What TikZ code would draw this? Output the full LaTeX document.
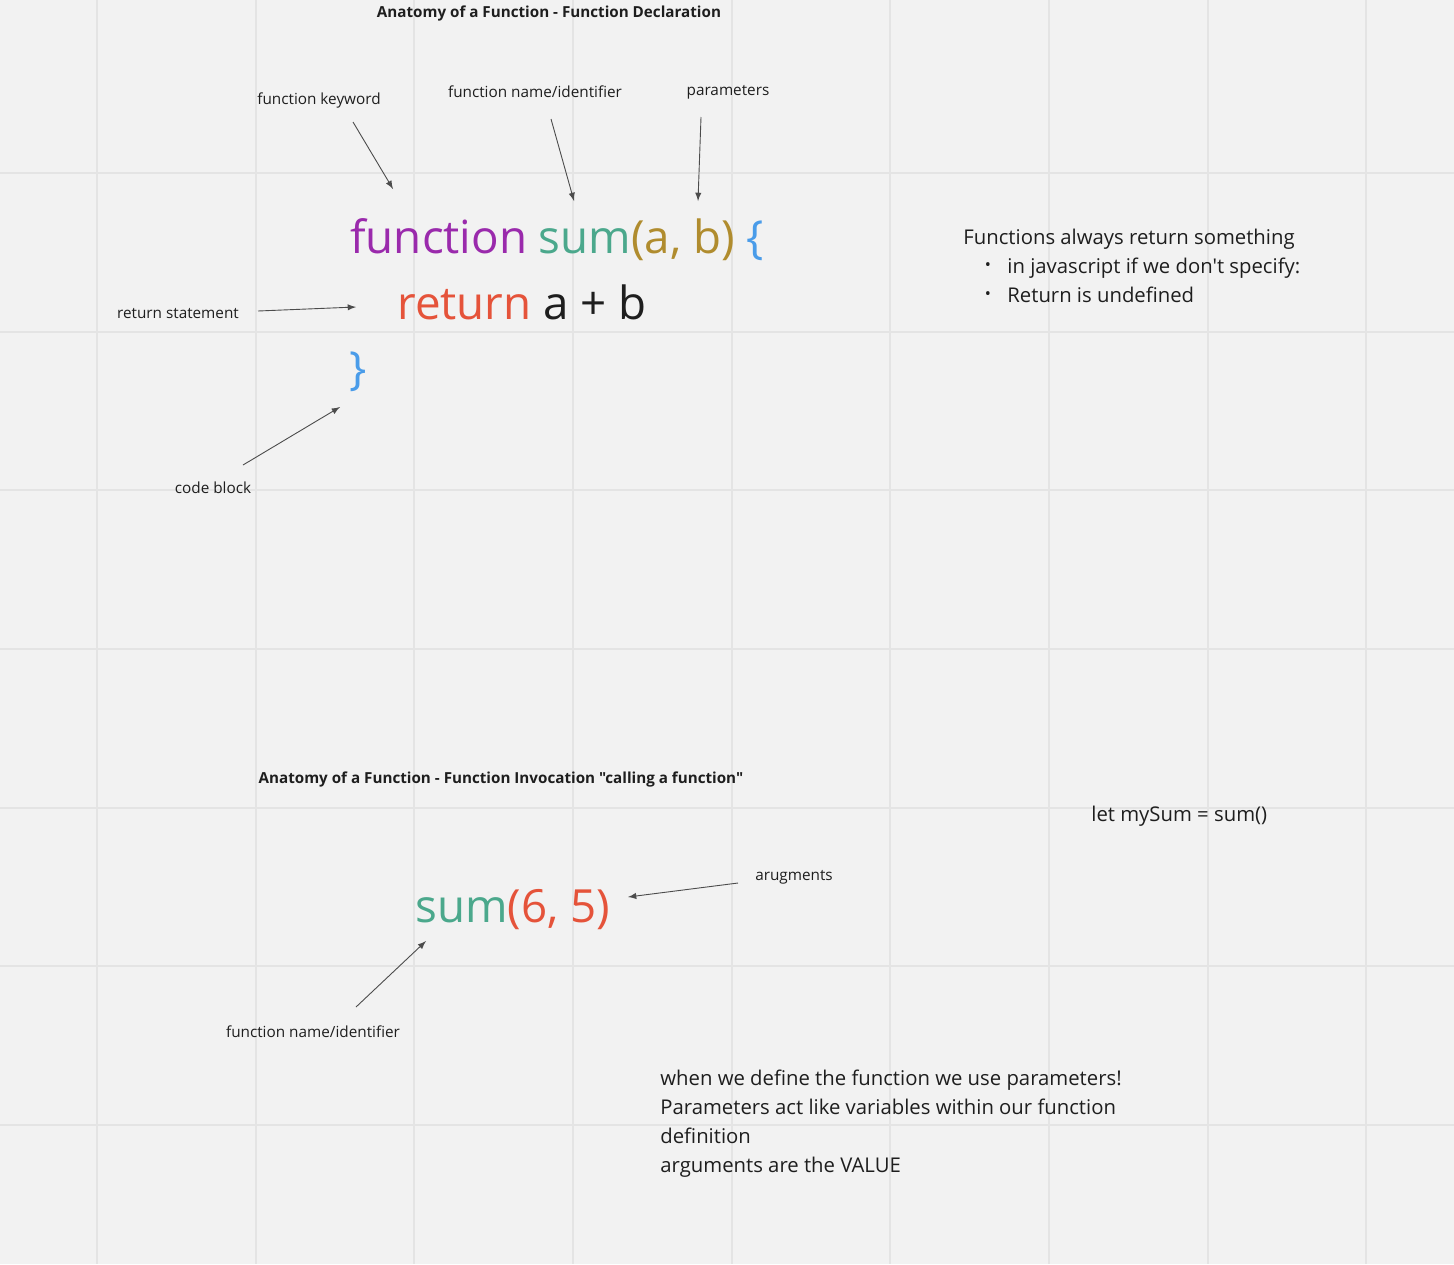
\documentclass[tikz,border=0pt]{standalone}
\usepackage{fontspec}
\setmainfont{Open Sans}[Ligatures=TeXOff]
\definecolor{boardbg}{HTML}{F2F2F2}
\definecolor{gridgray}{HTML}{E4E4E4}
\definecolor{kwpurple}{HTML}{9A2AAC}
\definecolor{fnteal}{HTML}{4BA88C}
\definecolor{pargold}{HTML}{B08C2E}
\definecolor{brblue}{HTML}{4A9CE9}
\definecolor{retred}{HTML}{E5533A}
\definecolor{inkblack}{HTML}{1E1E1E}
\tikzset{
  gridline/.style={gridgray,line width=1pt},
  lbl/.style={font=\fontsize{7.65}{9}\selectfont,text=inkblack,inner sep=0pt},
  heading/.style={font=\bfseries\fontsize{7.6}{9}\selectfont,text=inkblack,inner sep=0pt},
  code/.style={font=\fontsize{22.85}{26}\selectfont,inner sep=0pt},
  note/.style={font=\fontsize{10.15}{14.5}\selectfont,text=inkblack,inner sep=0pt},
  ptr/.style={->,>=latex,black!70,line width=0.45pt}
}
\begin{document}
\begin{tikzpicture}[x=0.5pt,y=-0.5pt]

\fill[boardbg] (0,0) rectangle (1454,1264);
\useasboundingbox (0,0) rectangle (1454,1264);

% board grid
\foreach \i in {0,...,8}{
\draw[gridline] ({97+158.65*\i},0) -- ({97+158.65*\i},1264);
}
\foreach \j in {0,...,6}{
\draw[gridline] (0,{173+158.67*\j}) -- (1454,{173+158.67*\j});
}

% declaration
\node[heading] (decltitle) at (549,14) {Anatomy of a Function - Function Declaration};

\node[code,anchor=base west] (declline) at (350,253)
  {\color{kwpurple}function \color{fnteal}sum\color{pargold}(a, b) \color{brblue}\{};
\node[code,anchor=base west] (retline) at (397,319)
  {\color{retred}return \color{inkblack}a + b};
\node[code,text=brblue] (closebrace) at (358,372) {\}};

\node[lbl] (kwlabel) at (319,100) {function keyword};
\node[lbl] (namelabel) at (535,92) {function name/identifier};
\node[lbl] (paramlabel) at (728,92) {parameters};
\node[lbl] (retlabel) at (178,314) {return statement};
\node[lbl] (blocklabel) at (213,488) {code block};

\coordinate (kwtail) at (353,122);
\coordinate (kwtip) at (393,189);
\coordinate (nametail) at (551,119);
\coordinate (nametip) at (574,201);
\coordinate (paramtail) at (701,117);
\coordinate (paramtip) at (698,201);
\coordinate (rettail) at (258,311);
\coordinate (rettip) at (356,307);
\coordinate (blocktail) at (243,465);
\coordinate (blocktip) at (340,407);

\draw[ptr] (kwtail) -- (kwtip);
\draw[ptr] (nametail) -- (nametip);
\draw[ptr] (paramtail) -- (paramtip);
\draw[ptr] (rettail) -- (rettip);
\draw[ptr] (blocktail) -- (blocktip);

% side note
\node[note,anchor=base west] (always) at (963,244) {Functions always return something};
\node[note,anchor=base west] (bulletone) at (1007,273) {in javascript if we don't specify:};
\node[note,anchor=base west] (bullettwo) at (1007,302) {Return is undefined};
\node[note] (dotone) at (988,267) {\scalebox{0.8}{•}};
\node[note] (dottwo) at (988,296) {\scalebox{0.8}{•}};

% invocation
\node[heading] (calltitle) at (501,779)
  {Anatomy of a Function - Function Invocation "calling a function"};
\node[note,anchor=base west] (letsum) at (1091,821) {let mySum = sum()};

\node[code,anchor=base west] (callline) at (415,922)
  {\color{fnteal}sum\color{retred}(6, 5)};

\node[lbl] (arglabel) at (794,877) {arugments};
\node[lbl] (callname) at (313,1032) {function name/identifier};

\coordinate (argtail) at (738,883);
\coordinate (argtip) at (628,897);
\coordinate (calltail) at (356,1007);
\coordinate (calltip) at (426,941);

\draw[ptr] (argtail) -- (argtip);
\draw[ptr] (calltail) -- (calltip);

\node[note,anchor=north west,align=left] (paramnote) at (660,1070)
  {when we define the function we use parameters!\\
   Parameters act like variables within our function\\
   definition\\
   arguments are the VALUE};

\end{tikzpicture}
\end{document}
